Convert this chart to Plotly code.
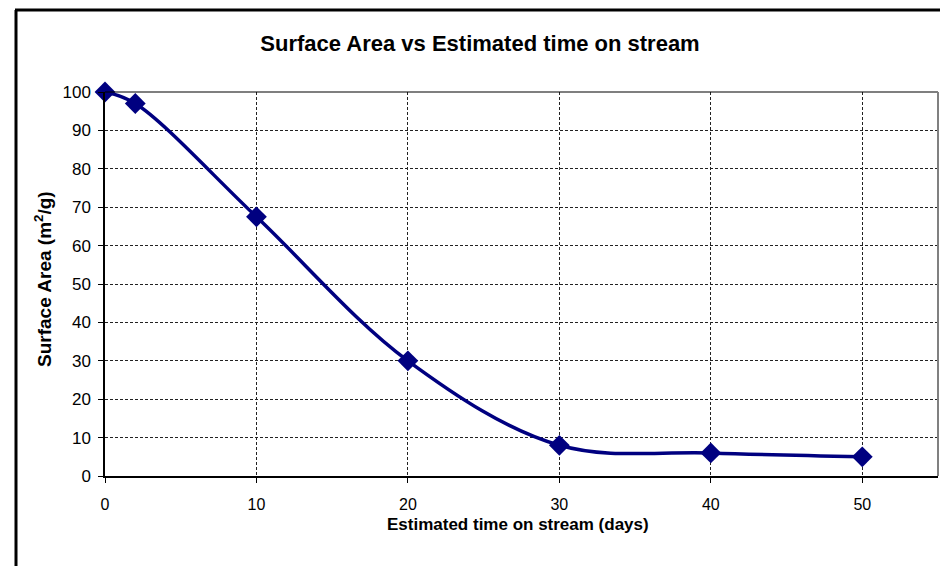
import plotly.graph_objects as go

days = [0, 2, 10, 20, 30, 40, 50]
surface_area = [100, 97, 67.5, 30, 8, 6, 5]
x_ticks = [0, 10, 20, 30, 40, 50]
y_ticks = [0, 10, 20, 30, 40, 50, 60, 70, 80, 90, 100]

NAVY = "#000080"
FONT = "Arial, Liberation Sans, sans-serif"

# page has an 8px body margin: work in page coordinates and convert
OFF = 8
W, H = 948 - OFF, 566 - OFF
L, T = 105 - OFF, 92 - OFF
R = W - (938 - OFF)
B = H - (476 - OFF)
pw, ph = W - L - R, H - T - B


def px(page_x):
    return (page_x - OFF - L) / pw


def py(page_y):
    return (H - B - (page_y - OFF)) / ph


fig = go.Figure()
fig.add_trace(go.Scatter(
    x=days, y=surface_area, mode="lines+markers",
    line=dict(color=NAVY, width=3.5, shape="spline", smoothing=1),
    marker=dict(symbol="diamond", size=16, color=NAVY),
    cliponaxis=False, showlegend=False,
))

shapes = [
    # outer chart border (left + top)
    dict(type="line", xref="paper", yref="paper",
         x0=px(16), x1=px(16), y0=py(10), y1=py(620),
         line=dict(color="black", width=3)),
    dict(type="line", xref="paper", yref="paper",
         x0=px(15), x1=px(980), y0=py(10), y1=py(10),
         line=dict(color="black", width=3)),
    # plot area border top / right
    dict(type="line", xref="paper", yref="paper",
         x0=0, x1=1, y0=1, y1=1, line=dict(color="black", width=1.2)),
    dict(type="line", xref="paper", yref="paper",
         x0=1, x1=1, y0=0, y1=1, line=dict(color="#808080", width=2)),
]

annotations = [
    dict(text="<b>Estimated time on stream (days)</b>", xref="paper", yref="paper",
         x=px(518), y=py(524), xanchor="center", yanchor="middle",
         showarrow=False, font=dict(size=17, family=FONT, color="black")),
    dict(text="<b>Surface Area (m<sup>2</sup>/g)</b>", xref="paper", yref="paper",
         x=px(43), y=py(279), xanchor="center", yanchor="middle", textangle=-90,
         showarrow=False, font=dict(size=19, family=FONT, color="black")),
]

fig.update_layout(
    width=W, height=H,
    margin=dict(l=L, r=R, t=T, b=B),
    paper_bgcolor="white", plot_bgcolor="white",
    font=dict(family=FONT, color="black", size=16),
    title=dict(text="<b>Surface Area vs Estimated time on stream</b>",
               x=(480 - OFF) / W, xanchor="center",
               y=1 - (43 - OFF) / H, yanchor="middle",
               font=dict(size=22, family=FONT)),
    shapes=shapes,
    annotations=annotations,
    xaxis=dict(range=[0, 55], tickvals=x_ticks, showgrid=True,
               gridcolor="#222222", griddash="3px,2px", gridwidth=1,
               zeroline=False, showline=True, linecolor="black", linewidth=2,
               ticks="outside", ticklen=5, tickcolor="black", tickwidth=1,
               ticklabelstandoff=8,
               tickfont=dict(size=16)),
    yaxis=dict(range=[0, 100], tickvals=y_ticks, showgrid=True,
               gridcolor="#222222", griddash="3px,2px", gridwidth=1,
               zeroline=False, showline=True, linecolor="black", linewidth=1.5,
               ticks="outside", ticklen=5, tickcolor="black", tickwidth=1,
               ticklabelstandoff=4,
               tickfont=dict(size=17)),
)

fig.write_html("out.html")
